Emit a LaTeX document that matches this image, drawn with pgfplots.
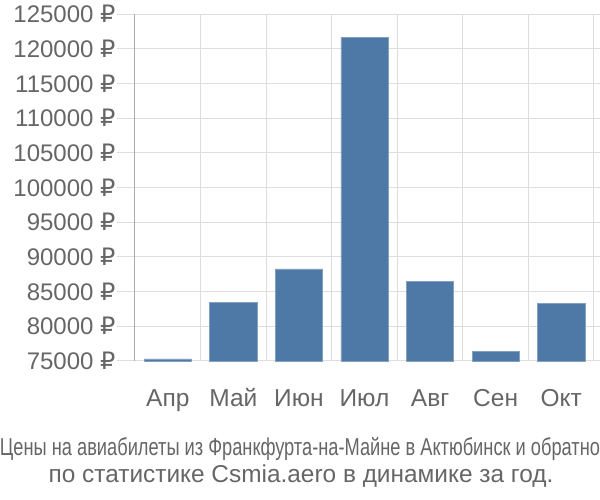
\documentclass[border=0pt]{standalone}
\usepackage{pgfplots}
\pgfplotsset{compat=1.18}
\usetikzlibrary{calc}
\usepackage{fontspec}
\setmainfont{Liberation Sans}
\newfontfamily\dv{DejaVu Sans}
\usepackage{graphicx}
\definecolor{barblue}{HTML}{4E78A6}
\definecolor{txt}{HTML}{666666}
\definecolor{gridc}{HTML}{DDDDDD}
\definecolor{axc}{HTML}{AAAAAA}
\begin{document}
\begin{tikzpicture}
\begin{axis}[
  scale only axis, width=459pt, height=347pt,
  xmin=-0.5, xmax=6.5, ymin=75000, ymax=125000,
  axis line style={draw=none},
  xtick={0,1,2,3,4,5,6},
  xticklabels={Апр,Май,Июн,Июл,Авг,Сен,Окт},
  minor xtick={0.5,1.5,2.5,3.5,4.5,5.5,6.5},
  extra x ticks={-0.5}, extra x tick labels={},
  extra x tick style={major tick length=20pt, major grid style={axc, line width=1pt}, tick style={axc, line width=1pt}, xmajorgrids=true},
  minor x tick style={gridc, line width=1pt},
  minor tick length=20pt,
  tick align=outside,
  xmajorgrids=false, xminorgrids=true,
  minor grid style={gridc, line width=1pt},
  x tick style={draw=none},
  ytick={75000,80000,...,125000},
  yticklabel={\pgfmathprintnumber[assume math mode=true,1000 sep={}, fixed, precision=0]{\tick}~{\dv ₽}},
  scaled y ticks=false,
  y tick style={gridc, line width=1pt},
  major tick length=18pt,
  ymajorgrids=true,
  major grid style={gridc, line width=1pt},
  yticklabel style={font=\fontsize{24}{28}\selectfont, text=txt, xshift=2pt},
  xticklabel style={font=\fontsize{24.5}{28}\selectfont, text=txt, anchor=base, yshift=-28pt},
  clip=false,
]
\addplot[ybar, bar width=0.72, fill=barblue, draw=barblue!70!white, line width=0.5pt] coordinates {
 (0,75300) (1,83460) (2,88270) (3,121640) (4,86480) (5,76440) (6,83260)
};
\coordinate (o) at (rel axis cs:0,0);
\end{axis}
\node[anchor=base, text=txt, inner sep=0] at ($(o)+(165pt,-94.7pt)$) {\resizebox{600pt}{\height}{\fontsize{24.4}{28}\selectfont Цены на авиабилеты из Франкфурта-на-Майне в Актюбинск и обратно}};
\node[anchor=base, text=txt, inner sep=0] at ($(o)+(166pt,-121.3pt)$) {\fontsize{24.4}{28}\selectfont по статистике Csmia.aero в динамике за год.};
\pgfresetboundingbox
\useasboundingbox ($(o)+(-135pt,-139pt)$) rectangle ($(o)+(465pt,361pt)$);
\end{tikzpicture}
\end{document}
